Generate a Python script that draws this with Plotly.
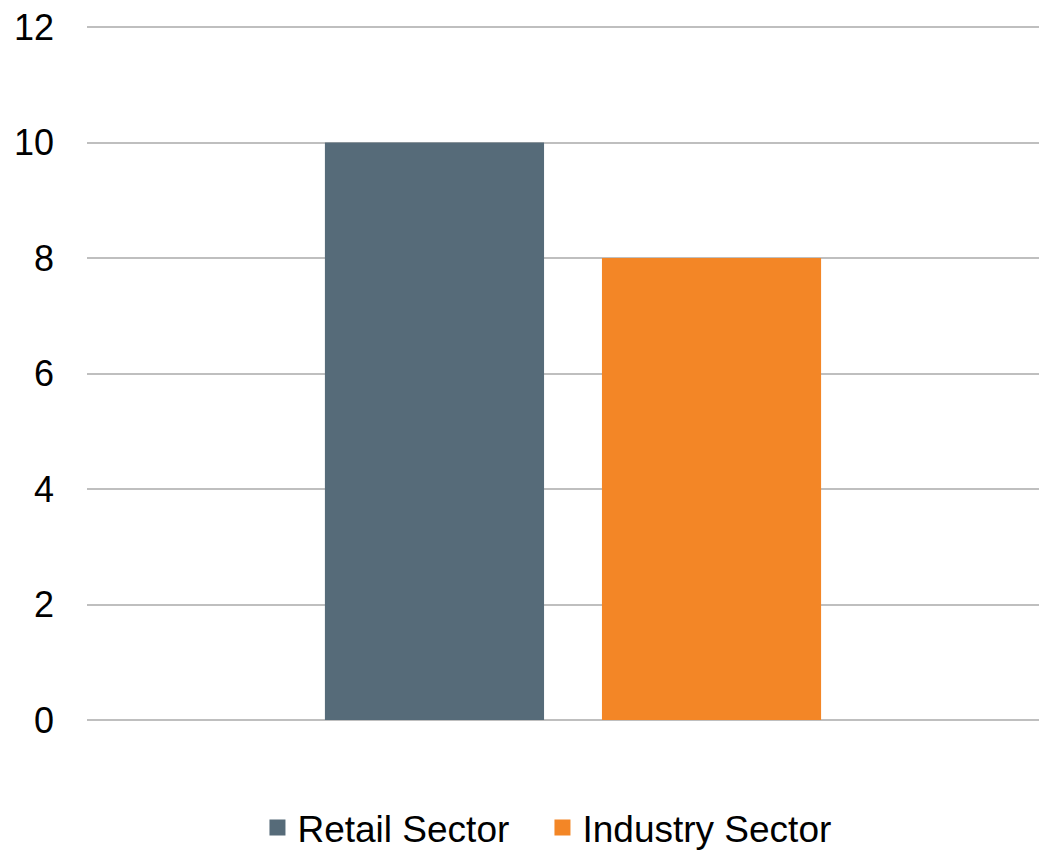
import plotly.graph_objects as go

# Sector values
series_names = ["Retail Sector", "Industry Sector"]
series_values = [10, 8]
series_colors = ["#566b79", "#f38626"]
y_ticks = [0, 2, 4, 6, 8, 10, 12]

# Each legend entry sits in its own legend box along the bottom
legend_ids = ["legend", "legend2"]
legend_x = [0.2478, 0.5221]

fig = go.Figure()
for name, val, col in zip(series_names, series_values, series_colors):
    fig.add_trace(go.Bar(x=[0], y=[val], name=name, showlegend=False,
                         marker=dict(color=col, line=dict(width=0))))

# Square legend keys
for name, col, lid in zip(series_names, series_colors, legend_ids):
    fig.add_trace(go.Scatter(x=[None], y=[None], mode="markers", name=name, legend=lid,
                             marker=dict(symbol="square", size=16, color=col, line=dict(width=0))))

legend_style = dict(orientation="h", xanchor="left", xref="container",
                    y=0.026, yanchor="middle", yref="container",
                    font=dict(size=37), itemsizing="trace", bgcolor="rgba(0,0,0,0)")

fig.update_layout(
    width=1039, height=850,
    margin=dict(l=87, r=0, t=24, b=130, autoexpand=False),
    paper_bgcolor="white", plot_bgcolor="white",
    barmode="group", bargap=0.418, bargroupgap=0.209,
    font=dict(family="Liberation Sans, Arial, sans-serif", size=36, color="#000000"),
    showlegend=True,
    legend=dict(x=legend_x[0], **legend_style),
    legend2=dict(x=legend_x[1], **legend_style),
    xaxis=dict(range=[-0.5105, 0.4895], showticklabels=False, showgrid=False,
               zeroline=False, showline=False, ticks=""),
    yaxis=dict(range=[0, 12.052], tickvals=y_ticks, showgrid=True, gridcolor="#bfbfbf",
               gridwidth=1.5, zeroline=True, zerolinecolor="#bfbfbf", zerolinewidth=1.5,
               showline=False, ticks="", ticklabelstandoff=32),
)

fig.write_html("out.html")
